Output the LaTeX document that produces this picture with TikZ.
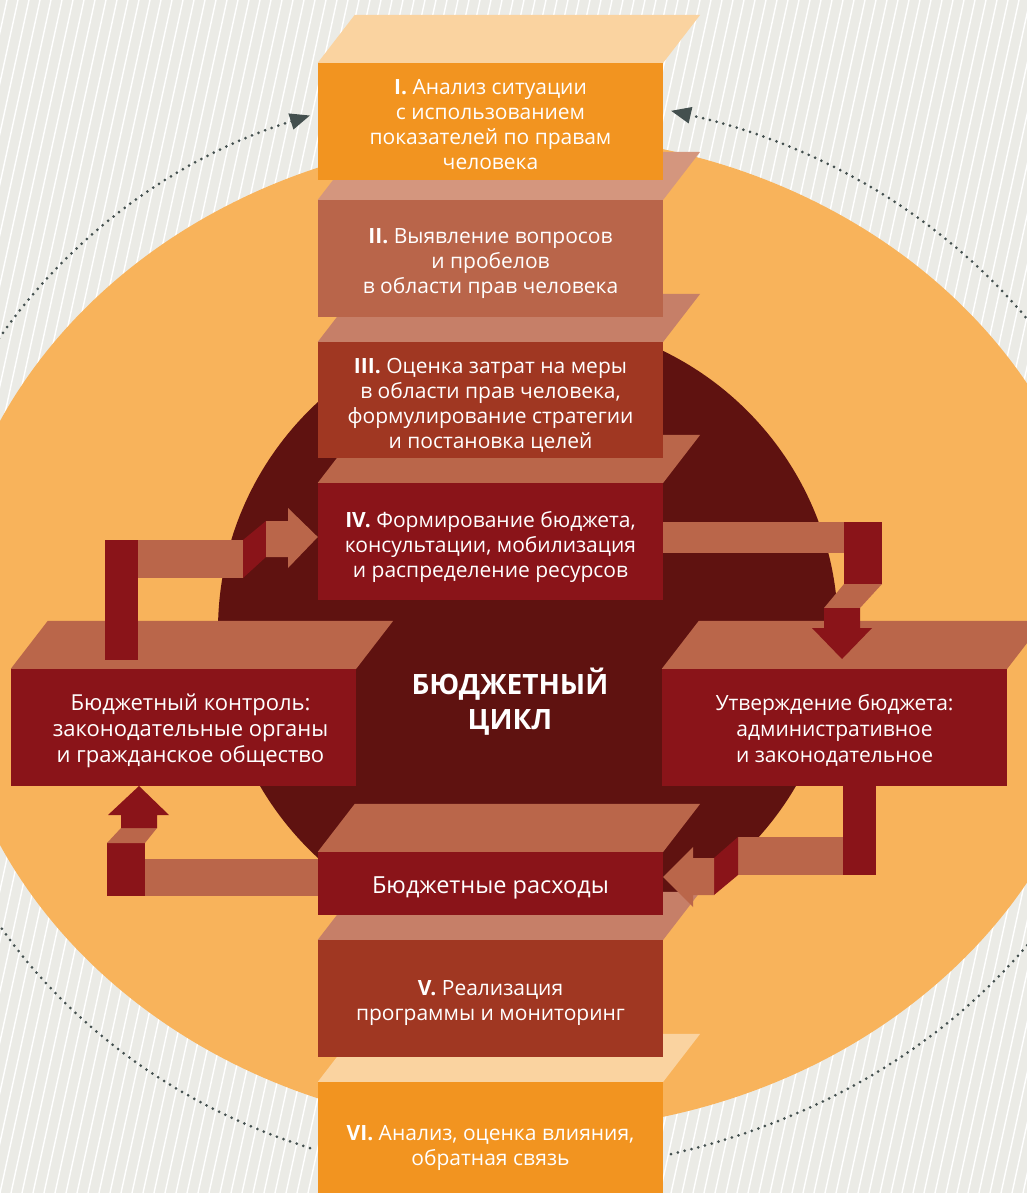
\documentclass[tikz,border=0pt]{standalone}
\usepackage{fontspec}
\setmainfont{Open Sans}
\usetikzlibrary{arrows.meta}
\definecolor{bgc}{HTML}{EBEBE6}
\definecolor{orng}{HTML}{F8B35B}
\definecolor{darkc}{HTML}{5F1210}
\definecolor{cI}{HTML}{F29420}
\definecolor{lI}{HTML}{FAD3A0}
\definecolor{cII}{HTML}{B9654A}
\definecolor{lII}{HTML}{D4967E}
\definecolor{cIII}{HTML}{A03722}
\definecolor{lIII}{HTML}{C67F68}
\definecolor{cIV}{HTML}{8A1419}
\definecolor{tanc}{HTML}{BA664A}
\definecolor{dotc}{HTML}{44504F}
\newcommand{\boxlid}[2]{\fill[#2] (#1.north west) -- ++(37,-48) -- ([shift={(37,-48)}]#1.north east) -- (#1.north east) -- cycle;}
\begin{document}
\begin{tikzpicture}[x=1pt,y=-1pt,
  stepbox/.style={draw=none, inner sep=0pt, minimum width=345pt},
  steptext/.style={inner sep=0pt, align=center, text=white, font=\fontsize{21}{25}\selectfont},
  sidetext/.style={inner sep=0pt, align=center, text=white, font=\fontsize{22}{26}\selectfont},
  dotline/.style={draw=dotc, line width=3pt, dash pattern=on 0pt off 7pt, line cap=round, -{Triangle[length=20pt,width=16pt]}},
]
\useasboundingbox (0,0) rectangle (1027,1193);
\begin{scope}
\clip (0,0) rectangle (1027,1193);
\fill[bgc] (0,0) rectangle (1027,1193);
\foreach \i in {-40,...,100} \draw[white, line width=1.4pt] (\i*11,1193) -- ++(260,-1193);
\fill[orng] (525,633) ellipse [x radius=580, y radius=498];
\fill[darkc] (528,630) circle [radius=310];
\coordinate (dL) at (310,1148);
\coordinate (dR) at (671,1154);
\draw[dotline] (dL) arc[start angle=109, end angle=251, x radius=600, y radius=546];
\draw[dotline] (dR) arc[start angle=75, end angle=-75, x radius=640, y radius=540];
\end{scope}
% column, bottom to top
\node[stepbox, fill=cI, minimum height=130pt] (b6) at (490.5,1147) {};
\node[steptext] (t6) at ([yshift=-1pt]b6.center) {\textbf{VI.} Анализ, оценка влияния,\\обратная связь};
\boxlid{b6}{lI}
\node[stepbox, fill=cIII, minimum height=117pt] (b5) at (490.5,998.5) {};
\node[steptext] (t5) at ([yshift=-5pt]b5.center) {\textbf{V.} Реализация\\программы и мониторинг};
\boxlid{b5}{lIII}
\node[stepbox, fill=cIV, minimum height=63pt] (be) at (490.5,883.5) {};
\node[inner sep=0pt, text=white, font=\fontsize{23.5}{28}\selectfont] (te) at ([yshift=-4pt]be.center) {Бюджетные расходы};
\boxlid{be}{tanc}
\node[stepbox, fill=cIV, minimum height=117pt] (b4) at (490.5,541.5) {};
\node[steptext] (t4) at ([yshift=-5pt]b4.center) {\textbf{IV.} Формирование бюджета,\\консультации, мобилизация\\и распределение ресурсов};
\boxlid{b4}{tanc}
\node[stepbox, fill=cIII, minimum height=116pt] (b3) at (490.5,400) {};
\node[steptext] (t3) at ([yshift=-5pt]b3.center) {\textbf{III.} Оценка затрат на меры\\в области прав человека,\\формулирование стратегии\\и постановка целей};
\boxlid{b3}{lIII}
\node[stepbox, fill=cII, minimum height=117pt] (b2) at (490.5,258.5) {};
\node[steptext] (t2) at ([yshift=-5pt]b2.center) {\textbf{II.} Выявление вопросов\\и пробелов\\в области прав человека};
\boxlid{b2}{lII}
\node[stepbox, fill=cI, minimum height=117pt] (b1) at (490.5,121.5) {};
\node[steptext] (t1) at ([yshift=-3.5pt]b1.center) {\textbf{I.} Анализ ситуации\\с использованием\\показателей по правам\\человека};
\boxlid{b1}{lI}
% side boxes
\node[stepbox, fill=cIV, minimum height=117pt] (bl) at (183.5,727.5) {};
\node[sidetext] (tl) at ([xshift=7pt,yshift=-3pt]bl.center) {Бюджетный контроль:\\законодательные органы\\и гражданское общество};
\boxlid{bl}{tanc}
\node[stepbox, fill=cIV, minimum height=117pt] (br) at (834.5,727.5) {};
\node[sidetext, font=\fontsize{21}{26}\selectfont] (tr) at ([yshift=-3pt]br.center) {Утверждение бюджета:\\административное\\и законодательное};
\boxlid{br}{tanc}
\node[text=white, align=center, font=\fontsize{28}{35}\selectfont\bfseries] (ctr) at (510,702) {БЮДЖЕТНЫЙ\\ЦИКЛ};
% connector: left box -> IV
\fill[cIV] (105,540) rectangle (138,660);
\fill[tanc] (138,540) rectangle (243,578);
\fill[cIV] (243,540) -- (266,521) -- (266,557) -- (243,578) -- cycle;
\fill[tanc] (266,521) -- (288,521) -- (288,508) -- (b4.west |- 0,537) -- (288,568) -- (288,557) -- (266,557) -- cycle;
% connector: IV -> right box
\fill[tanc] (b4.east |- 0,522) rectangle (844,553);
\fill[cIV] (844,522) rectangle (882,584);
\fill[tanc] (844,584) -- (882,584) -- (860,608) -- (824,608) -- cycle;
\fill[cIV] (824,608) -- (860,608) -- (860,628) -- (872,628) -- (842,659) -- (812,628) -- (824,628) -- cycle;
% connector: right box -> expenses
\fill[cIV] (843,786) rectangle (876,875);
\fill[tanc] (738,837) rectangle (843,875);
\fill[cIV] (714,858) -- (738,837) -- (738,875) -- (714,895) -- cycle;
\fill[tanc] (714,858) -- (693,858) -- (693,847) -- (be.east |- 0,877) -- (693,907) -- (693,895) -- (714,895) -- cycle;
% connector: expenses -> left box
\fill[tanc] (145,859) rectangle (be.west |- 0,896);
\fill[cIV] (107,843) rectangle (145,896);
\fill[tanc] (107,843) -- (121,828) -- (157,828) -- (145,843) -- cycle;
\fill[cIV] (121,828) -- (121,815) -- (108,815) -- (139,786) -- (169,815) -- (157,815) -- (157,828) -- cycle;
\end{tikzpicture}
\end{document}
